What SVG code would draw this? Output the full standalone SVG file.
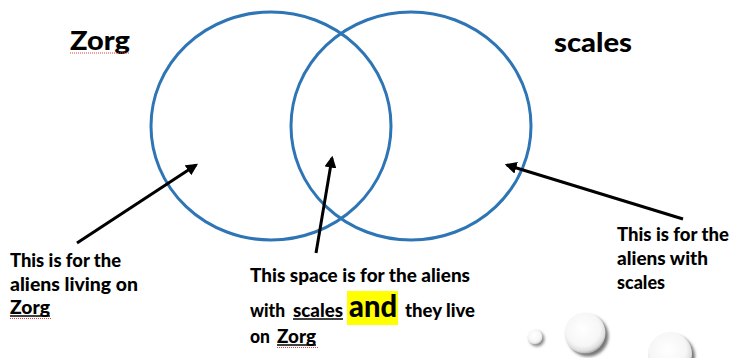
<svg xmlns="http://www.w3.org/2000/svg" width="729" height="358" viewBox="0 0 729 358">
<style>
.ring{fill:none;stroke:#2E75B6;stroke-width:3}
.t{font-family:Lato,"Liberation Sans",sans-serif;font-weight:900;fill:#000}
.title{font-size:27px}
.lbl{font-size:18px}
.big{font-size:30px}
.con{stroke:#000;stroke-width:3;fill:none;marker-end:url(#ah)}
.sq{fill:none;stroke:#e04040;stroke-width:1;stroke-dasharray:1 1}
.ul{stroke:#000;stroke-width:1.5}
</style>
<defs>
<marker id="ah" viewBox="0 0 10 10" refX="8" refY="5" markerWidth="4" markerHeight="4" orient="auto" markerUnits="strokeWidth">
<path d="M0,0 L10,5 L0,10 z" fill="#000"/>
</marker>
<radialGradient id="bub" cx="0.45" cy="0.4" r="0.6">
<stop offset="0" stop-color="#ffffff"/>
<stop offset="0.7" stop-color="#f6f6f6"/>
<stop offset="0.9" stop-color="#dedede"/>
<stop offset="1" stop-color="#b0b0b0"/>
</radialGradient>
<filter id="sh" x="-50%" y="-50%" width="200%" height="200%">
<feGaussianBlur stdDeviation="1.5"/>
</filter>
</defs>
<rect width="729" height="358" fill="#fff"/>
<g id="zorg-set"><ellipse class="ring" cx="271" cy="126" rx="120" ry="114"/></g>
<g id="scales-set"><ellipse class="ring" cx="411" cy="126" rx="120" ry="114"/></g>
<g id="title-zorg"><text class="t title" x="70" y="50" textLength="60" lengthAdjust="spacingAndGlyphs">Zorg</text><path class="sq" d="M70,53 L130,53"/></g>
<g id="title-scales"><text class="t title" x="554" y="52" textLength="78" lengthAdjust="spacingAndGlyphs">scales</text></g>
<g id="connectors">
<line class="con" x1="77" y1="243" x2="196" y2="165"/>
<line class="con" x1="316" y1="253" x2="332" y2="158"/>
<line class="con" x1="683" y1="219" x2="507" y2="165"/>
</g>
<g id="label-zorg">
<text class="t lbl" x="10" y="267" textLength="111" lengthAdjust="spacingAndGlyphs">This is for the</text>
<text class="t lbl" x="10" y="291" textLength="128" lengthAdjust="spacingAndGlyphs">aliens living on</text>
<text class="t lbl" x="10" y="314" textLength="40" lengthAdjust="spacingAndGlyphs">Zorg</text>
<line class="ul" x1="10" y1="316" x2="50" y2="316"/>
<path class="sq" d="M10,318.5 L52,318.5"/>
</g>
<g id="label-both">
<rect x="347" y="291" width="51" height="34" fill="#ffff00"/>
<text class="t lbl" x="250" y="282" textLength="220" lengthAdjust="spacingAndGlyphs">This space is for the aliens</text>
<text class="t lbl" x="250" y="317" textLength="35" lengthAdjust="spacingAndGlyphs">with</text>
<text class="t lbl" x="293" y="317" textLength="50" lengthAdjust="spacingAndGlyphs">scales</text>
<line class="ul" x1="293" y1="319" x2="343" y2="319"/>
<text class="t big" x="349" y="317" textLength="48" lengthAdjust="spacingAndGlyphs">and</text>
<text class="t lbl" x="405" y="317" textLength="70" lengthAdjust="spacingAndGlyphs">they live</text>
<text class="t lbl" x="250" y="343" textLength="20" lengthAdjust="spacingAndGlyphs">on</text>
<text class="t lbl" x="277" y="343" textLength="39" lengthAdjust="spacingAndGlyphs">Zorg</text>
<line class="ul" x1="277" y1="345" x2="316" y2="345"/>
<path class="sq" d="M277,347.5 L318,347.5"/>
</g>
<g id="label-scales">
<text class="t lbl" x="617" y="241" textLength="112" lengthAdjust="spacingAndGlyphs">This is for the</text>
<text class="t lbl" x="617" y="265" textLength="91" lengthAdjust="spacingAndGlyphs">aliens with</text>
<text class="t lbl" x="617" y="289" textLength="48" lengthAdjust="spacingAndGlyphs">scales</text>
</g>
<g id="bubbles">
<circle cx="537" cy="339" r="7.5" fill="#888" filter="url(#sh)"/>
<circle cx="535" cy="337" r="7.5" fill="url(#bub)"/>
<circle cx="588" cy="336" r="20.5" fill="#777" filter="url(#sh)"/>
<circle cx="585" cy="333" r="20.5" fill="url(#bub)"/>
<circle cx="673" cy="357" r="22" fill="#777" filter="url(#sh)"/>
<circle cx="670" cy="354" r="22" fill="url(#bub)"/>
</g>
</svg>
